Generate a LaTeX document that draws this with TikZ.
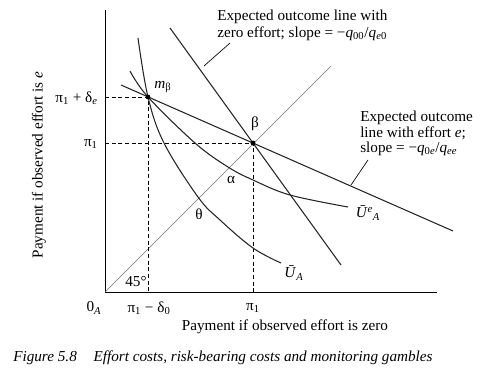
\documentclass[tikz,border=0pt]{standalone}
\usepackage{fontspec}
\setmainfont{Liberation Serif}
\begin{document}
\begin{tikzpicture}[x=0.75pt,y=-0.75pt,
    every node/.style={font=\fontsize{11.4}{13}\selectfont},
    axis/.style={line width=0.7pt},
    curve/.style={line width=0.8pt, color=black!85},
    guide/.style={dash pattern=on 3pt off 2pt, line width=0.6pt},
    diag/.style={line width=0.5pt, color=black!55},
    note/.style={anchor=north west, align=left, inner sep=0pt}]
  \useasboundingbox (0,0) rectangle (480,379);
  % points
  \coordinate (O) at (105,292);
  \coordinate (ytop) at (105,10);
  \coordinate (xend) at (437,292);
  \coordinate (mb) at (148,97);
  \coordinate (beta) at (253,143);
  \coordinate (d45) at (331,66);
  \coordinate (e1) at (121,85);
  \coordinate (e2) at (453,231);
  \coordinate (z1) at (170,28);
  \coordinate (z2) at (341,265);
  \coordinate (zl1) at (204,66);
  \coordinate (zl2) at (230,43);
  \coordinate (el1) at (351,185);
  \coordinate (el2) at (368,160);
  % axes and guides
  \draw[axis] (ytop) -- (O) -- (xend);
  \draw[diag] (O) -- (d45);
  \draw[guide] (O |- mb) -- (mb) -- (mb |- O);
  \draw[guide] (O |- beta) -- (beta) -- (beta |- O);
  % outcome lines
  \draw[curve] (e1) -- (e2);
  \draw[curve] (z1) -- (z2);
  \draw[line width=0.5pt] (zl1) -- (zl2);
  \draw[line width=0.5pt] (el1) -- (el2);
  % indifference curves
  \draw[curve] plot[smooth, tension=0.6] coordinates
    {(138,38) (148,97) (164,143) (198,197) (220,220) (253,248) (281,263)};
  \draw[curve] plot[smooth, tension=0.6] coordinates
    {(130,71) (148,97) (195,143) (228,167) (253,180) (290,195) (348,207)};
  \fill (mb) circle (1.8pt);
  \fill (beta) circle (1.8pt);
  % labels
  \node (mblab) at (163,87) {\textit{m}\textsubscript{β}};
  \node (betalab) at (255,124) {β};
  \node (alpha) at (231,180) {α};
  \node (theta) at (199,214) {θ};
  \node (UeA) at (368,213) {\textit{Ū}\textsuperscript{\textit{e}}\textsubscript{\textit{A}}};
  \node (UA) at (294,273) {\textit{Ū}\textsubscript{\textit{A}}};
  \node (ang) at (136,282) {45°};
  \node[anchor=east, inner sep=0pt] (pdy) at (98,98) {π\textsubscript{1} + δ\textsubscript{\textit{e}}};
  \node[anchor=east, inner sep=0pt] (p1y) at (98,144) {π\textsubscript{1}};
  \node (zero) at (94,308) {0\textsubscript{\textit{A}}};
  \node (pdx) at (149,308) {π\textsubscript{1} − δ\textsubscript{0}};
  \node (p1x) at (253,308) {π\textsubscript{1}};
  \node (xlab) at (285,327) {Payment if observed effort is zero};
  \node[rotate=90] (ylab) at (39,165) {Payment if observed effort is \textit{e}};
  \node[note, font=\fontsize{11.4}{12.6}\selectfont] (zerotxt) at (217,10)
    {Expected outcome line with\\zero effort; slope = −\textit{q}\textsubscript{00}/\textit{q}\textsubscript{\textit{e}0}};
  \node[note, font=\fontsize{11.4}{11.4}\selectfont] (efftxt) at (360,111)
    {Expected outcome\\line with effort \textit{e};\\slope = −\textit{q}\textsubscript{0\textit{e}}/\textit{q}\textsubscript{\textit{ee}}};
  \node[anchor=west, inner sep=0pt] (cap) at (13,358)
    {\textit{Figure 5.8\hspace{1.1em}Effort costs, risk-bearing costs and monitoring gambles}};
\end{tikzpicture}
\end{document}
